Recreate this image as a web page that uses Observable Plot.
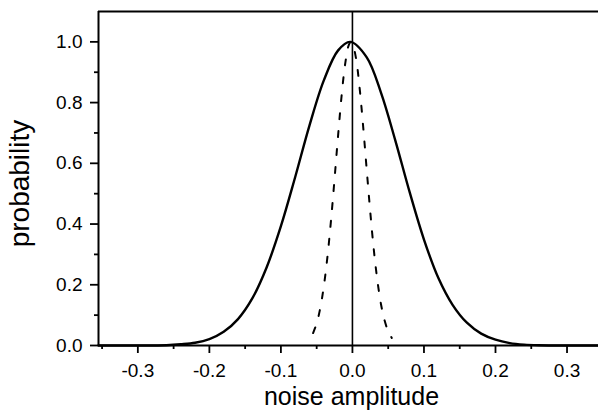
<!DOCTYPE html>
<html><head><meta charset="utf-8">
<script src="https://cdn.jsdelivr.net/npm/d3@7"></script>
<script src="https://cdn.jsdelivr.net/npm/@observablehq/plot@0.6"></script>
<style>
body{margin:0;background:#fff} svg{display:block}
g[aria-label$="tick label"]{font-size:19px}
</style>
</head><body><div id="chart"></div>
<script>
const solidX = [-0.355, -0.30, -0.26, -0.24, -0.22, -0.20, -0.18, -0.16, -0.14, -0.12, -0.10, -0.08, -0.06, -0.04, -0.02, -0.003, 0.02, 0.04, 0.06, 0.08, 0.10, 0.12, 0.14, 0.16, 0.18, 0.20, 0.22, 0.24, 0.26, 0.30, 0.344];
const solidY = [0, 0, 0.001, 0.004, 0.009, 0.021, 0.045, 0.087, 0.155, 0.257, 0.393, 0.555, 0.725, 0.873, 0.972, 1.0, 0.949, 0.832, 0.675, 0.505, 0.349, 0.223, 0.134, 0.075, 0.039, 0.019, 0.008, 0.003, 0.001, 0, 0];
const dashedX = [-0.055, -0.05, -0.045, -0.04, -0.035, -0.03, -0.025, -0.02, -0.015, -0.01, -0.005, -0.002, 0.0, 0.005, 0.01, 0.015, 0.02, 0.025, 0.03, 0.035, 0.04, 0.045, 0.05, 0.055];
const dashedY = [0.041, 0.073, 0.123, 0.195, 0.291, 0.411, 0.549, 0.693, 0.826, 0.930, 0.990, 1.0, 0.995, 0.946, 0.849, 0.721, 0.578, 0.438, 0.313, 0.212, 0.135, 0.082, 0.047, 0.025];
const xMajorTicks = [-0.3, -0.2, -0.1, 0, 0.1, 0.2, 0.3];
const xMinorTicks = [-0.35, -0.25, -0.15, -0.05, 0.05, 0.15, 0.25];
const yMajorTicks = [0, 0.2, 0.4, 0.6, 0.8, 1.0];
const yMinorTicks = [0.1, 0.3, 0.5, 0.7, 0.9];
const xDomain = [-0.355, 0.344];
const yDomain = [0, 1.1];
const xLabel = "noise amplitude";
const yLabel = "probability";

const solid = solidX.map((x, i) => ({x, y: solidY[i]}));
const dashed = dashedX.map((x, i) => ({x, y: dashedY[i]}));
const fmt = d => d.toFixed(1);

const plot = Plot.plot({
  width: 598, height: 411,
  marginLeft: 98, marginRight: 0, marginTop: 11, marginBottom: 66,
  style: {fontFamily: "'Liberation Sans', Arial, sans-serif", fontSize: "19px", background: "#fff", color: "#000"},
  x: {domain: xDomain},
  y: {domain: yDomain},
  marks: [
    Plot.axisX({ticks: xMajorTicks, tickSize: 8, tickPadding: 10, tickFormat: fmt, label: null, strokeWidth: 1.8, fontSize: 19}),
    Plot.axisX({ticks: xMinorTicks, tickSize: 4, tickFormat: () => "", label: null, strokeWidth: 1.8}),
    Plot.axisY({ticks: yMajorTicks, tickSize: 8, tickPadding: 8, tickFormat: fmt, label: null, strokeWidth: 1.8, fontSize: 19}),
    Plot.axisY({ticks: yMinorTicks, tickSize: 4, tickFormat: () => "", label: null, strokeWidth: 1.8}),
    Plot.ruleY([yDomain[0]], {strokeWidth: 2}),
    Plot.ruleY([yDomain[1]], {strokeWidth: 2}),
    Plot.ruleX([xDomain[0]], {strokeWidth: 2}),
    Plot.ruleX([0], {strokeWidth: 1.6}),
    Plot.line(solid, {x: "x", y: "y", curve: "catmull-rom", strokeWidth: 2.4}),
    Plot.line(dashed, {x: "x", y: "y", curve: "catmull-rom", strokeWidth: 2, strokeDasharray: "6,12"}),
    Plot.text([xLabel], {text: d => d, frameAnchor: "bottom", textAnchor: "middle", lineAnchor: "middle", dx: 3, dy: 51, fontSize: 25}),
    Plot.text([yLabel], {text: d => d, frameAnchor: "left", textAnchor: "middle", lineAnchor: "middle", rotate: -90, dx: -78, dy: 5, fontSize: 28})
  ]
});
document.getElementById("chart").appendChild(plot);
</script>
</body></html>
